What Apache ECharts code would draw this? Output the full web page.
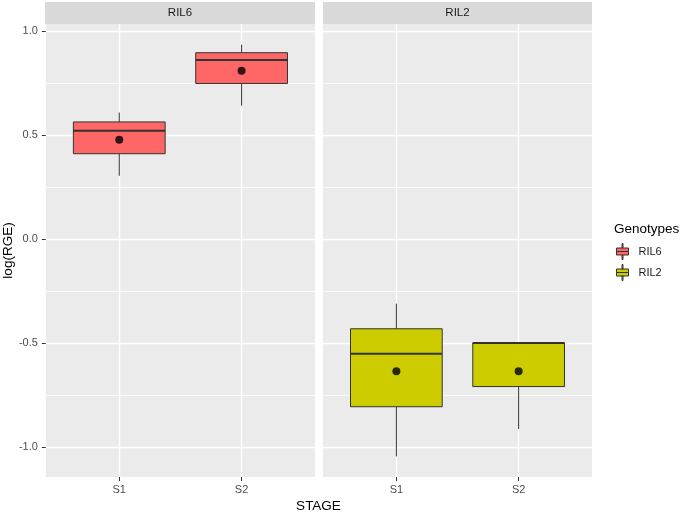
<!DOCTYPE html>
<html>
<head>
<meta charset="utf-8">
<script src="https://cdn.jsdelivr.net/npm/echarts@6/dist/echarts.min.js"></script>
<style>
  html, body { margin: 0; padding: 0; background: #ffffff; }
  #chart { width: 685px; height: 515px; }
</style>
</head>
<body>
<div id="chart"></div>
<script>
// ---- data ----
const stages = ['S1', 'S2'];
const facets = ['RIL6', 'RIL2'];

const ril6Min    = [0.304, 0.641];
const ril6Q1     = [0.410, 0.748];
const ril6Median = [0.520, 0.861];
const ril6Q3     = [0.563, 0.896];
const ril6Max    = [0.608, 0.935];
const ril6Mean   = [0.477, 0.809];

const ril2Min    = [-1.046, -0.914];
const ril2Q1     = [-0.807, -0.710];
const ril2Median = [-0.552, -0.500];
const ril2Q3     = [-0.432, -0.500];
const ril2Max    = [-0.311, -0.500];
const ril2Mean   = [-0.636, -0.636];

const yTicks = [-1.0, -0.5, 0.0, 0.5, 1.0];

// ---- styling / layout ----
const FONT = '"Liberation Sans", Arial, sans-serif';
const colors = { RIL6: '#FF6666', RIL2: '#CCCC00' };
const boxWidth = 0.75;

// ggplot-like expansion of y range (5%)
const allVals = [].concat(ril6Min, ril6Max, ril2Min, ril2Max);
const dMin = Math.min.apply(null, allVals), dMax = Math.max.apply(null, allVals);
const span = dMax - dMin;
const yMin = dMin - 0.05 * span, yMax = dMax + 0.05 * span;
// discrete x expansion (0.6 units each side)
const xMin = 0.4, xMax = stages.length + 0.6;

const minorTicks = [];
for (let i = 0; i < yTicks.length - 1; i++) minorTicks.push((yTicks[i] + yTicks[i + 1]) / 2);

function boxData(mn, q1, md, q3, mx) {
  return stages.map((s, i) => [i + 1, mn[i], q1[i], md[i], q3[i], mx[i]]);
}
function meanData(m) { return stages.map((s, i) => [i + 1, m[i]]); }

function renderBox(params, api) {
  const x = api.value(0);
  const lo = api.coord([x, api.value(1)]);
  const q1 = api.coord([x, api.value(2)]);
  const md = api.coord([x, api.value(3)]);
  const q3 = api.coord([x, api.value(4)]);
  const hi = api.coord([x, api.value(5)]);
  const half = api.size([boxWidth, 0])[0] / 2;
  const fill = api.visual('color');
  const cx = lo[0];
  const stroke = '#333333';
  return {
    type: 'group',
    children: [
      { type: 'line', shape: { x1: cx, y1: hi[1], x2: cx, y2: q3[1] }, style: { stroke: stroke, lineWidth: 1 } },
      { type: 'line', shape: { x1: cx, y1: q1[1], x2: cx, y2: lo[1] }, style: { stroke: stroke, lineWidth: 1 } },
      { type: 'rect', shape: { x: cx - half, y: q3[1], width: 2 * half, height: q1[1] - q3[1] },
        style: { fill: fill, stroke: stroke, lineWidth: 1 } },
      { type: 'line', shape: { x1: cx - half, y1: md[1], x2: cx + half, y2: md[1] }, style: { stroke: stroke, lineWidth: 2 } }
    ]
  };
}

function gridLines() {
  const data = [];
  yTicks.forEach(v => data.push({ yAxis: v, lineStyle: { color: '#ffffff', width: 1.4, type: 'solid' } }));
  minorTicks.forEach(v => data.push({ yAxis: v, lineStyle: { color: '#ffffff', width: 0.7, type: 'solid' } }));
  stages.forEach((s, i) => data.push({ xAxis: i + 1, lineStyle: { color: '#ffffff', width: 1.4, type: 'solid' } }));
  return { silent: true, symbol: 'none', z: 1, label: { show: false }, emphasis: { disabled: true }, data: data };
}

const grids = [
  { left: 45, width: 270, top: 24, height: 453 },
  { left: 323, width: 269, top: 24, height: 453 }
].map(g => Object.assign(g, { show: true, backgroundColor: '#EBEBEB', borderWidth: 0, containLabel: false }));

function xAxis(idx) {
  return {
    type: 'value', gridIndex: idx, min: xMin, max: xMax,
    axisLine: { show: true, onZero: false, lineStyle: { color: 'rgba(0,0,0,0)' } },
    splitLine: { show: false },
    axisTick: { show: true, customValues: stages.map((s, i) => i + 1), length: 4, lineStyle: { color: '#333333', width: 1 } },
    axisLabel: {
      show: true, customValues: stages.map((s, i) => i + 1), margin: 7,
      formatter: v => stages[Math.round(v) - 1] || '',
      color: '#4D4D4D', fontSize: 11, fontFamily: FONT
    }
  };
}
function yAxis(idx) {
  return {
    type: 'value', gridIndex: idx, min: yMin, max: yMax,
    name: idx === 0 ? 'log(RGE)' : '',
    nameLocation: 'middle', nameRotate: 90, nameGap: 28,
    nameTextStyle: { color: '#000000', fontSize: 13.5, fontFamily: FONT },
    axisLine: { show: idx === 0, onZero: false, lineStyle: { color: 'rgba(0,0,0,0)' } },
    splitLine: { show: false },
    axisTick: { show: idx === 0, customValues: yTicks, length: 4, lineStyle: { color: '#333333', width: 1 } },
    axisLabel: {
      show: idx === 0, customValues: yTicks, margin: 8,
      formatter: v => v.toFixed(1),
      color: '#4D4D4D', fontSize: 11, fontFamily: FONT
    }
  };
}

const legendIcon = 'path://M5.5 0h1v4.5h-1z M0 4.5h12v3.5h-12z M0 8h12v3.5h-12z M5.5 11.5h1v4.5h-1z';

const option = {
  animation: false,
  backgroundColor: '#ffffff',
  textStyle: { fontFamily: FONT },
  grid: grids,
  xAxis: [xAxis(0), xAxis(1)],
  yAxis: [yAxis(0), yAxis(1)],
  legend: {
    orient: 'vertical', left: 616, top: 243, padding: 0,
    itemWidth: 12, itemHeight: 16, itemGap: 4,
    selectedMode: false,
    textStyle: { color: '#1A1A1A', fontSize: 11, fontFamily: FONT, padding: [0, 0, 0, 5] },
    data: facets.map(f => ({ name: f, icon: legendIcon,
      itemStyle: { color: colors[f], borderColor: '#333333', borderWidth: 1 } }))
  },
  graphic: [
    { type: 'rect', left: 45, top: 2, shape: { width: 270, height: 22 }, style: { fill: '#D9D9D9' }, silent: true },
    { type: 'rect', left: 323, top: 2, shape: { width: 269, height: 22 }, style: { fill: '#D9D9D9' }, silent: true },
    { type: 'text', x: 180, y: 13, style: { text: facets[0], fill: '#1A1A1A', fontSize: 11.5, fontFamily: FONT, align: 'center', verticalAlign: 'middle' }, silent: true },
    { type: 'text', x: 457.5, y: 13, style: { text: facets[1], fill: '#1A1A1A', fontSize: 11.5, fontFamily: FONT, align: 'center', verticalAlign: 'middle' }, silent: true },
    { type: 'text', x: 318.5, y: 506, style: { text: 'STAGE', fill: '#000000', fontSize: 13.5, fontFamily: FONT, align: 'center', verticalAlign: 'middle' }, silent: true },
    { type: 'text', x: 614, y: 229, style: { text: 'Genotypes', fill: '#000000', fontSize: 13.5, fontFamily: FONT, align: 'left', verticalAlign: 'middle' }, silent: true }
  ],
  series: [
    {
      name: 'RIL6', type: 'custom', xAxisIndex: 0, yAxisIndex: 0, z: 2,
      itemStyle: { color: colors.RIL6 },
      encode: { x: 0, y: [1, 2, 3, 4, 5] },
      data: boxData(ril6Min, ril6Q1, ril6Median, ril6Q3, ril6Max),
      renderItem: renderBox,
      markLine: gridLines()
    },
    {
      name: 'RIL6 mean', type: 'scatter', xAxisIndex: 0, yAxisIndex: 0, z: 3,
      symbol: 'circle', symbolSize: 8, itemStyle: { color: '#000000' },
      data: meanData(ril6Mean)
    },
    {
      name: 'RIL2', type: 'custom', xAxisIndex: 1, yAxisIndex: 1, z: 2,
      itemStyle: { color: colors.RIL2 },
      encode: { x: 0, y: [1, 2, 3, 4, 5] },
      data: boxData(ril2Min, ril2Q1, ril2Median, ril2Q3, ril2Max),
      renderItem: renderBox,
      markLine: gridLines()
    },
    {
      name: 'RIL2 mean', type: 'scatter', xAxisIndex: 1, yAxisIndex: 1, z: 3,
      symbol: 'circle', symbolSize: 8, itemStyle: { color: '#000000' },
      data: meanData(ril2Mean)
    }
  ]
};

const chart = echarts.init(document.getElementById('chart'), null, { renderer: 'canvas' });
chart.setOption(option);
</script>
</body>
</html>
